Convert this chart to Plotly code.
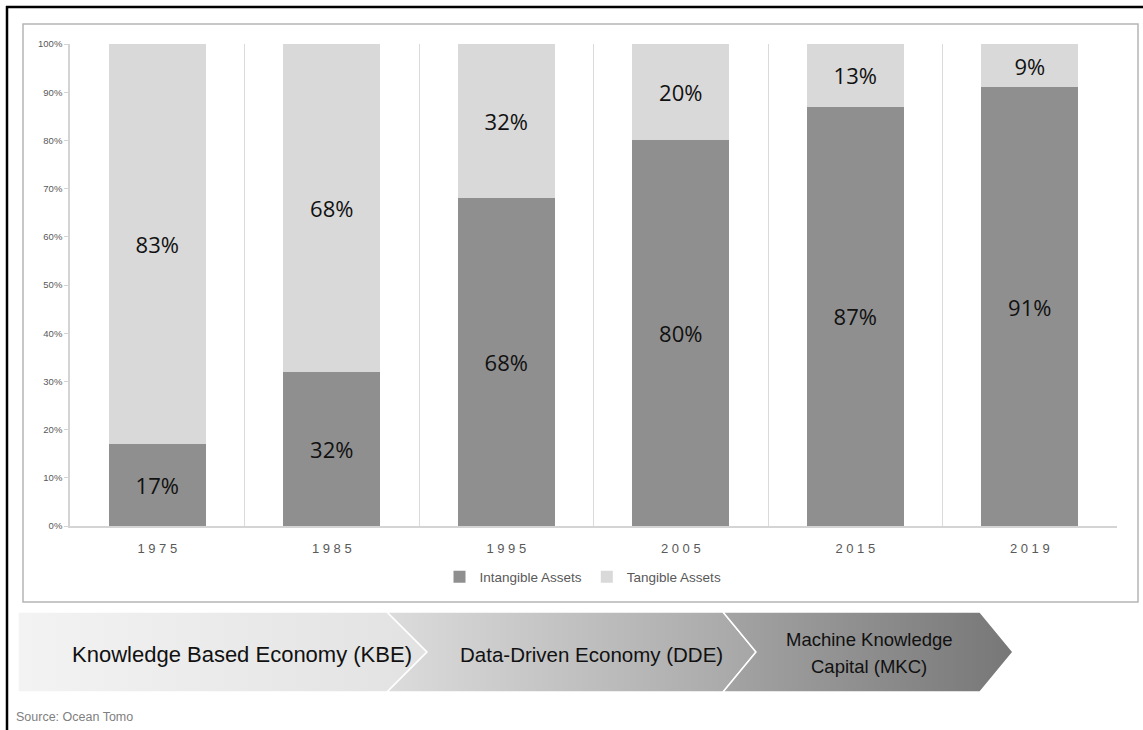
import plotly.graph_objects as go

# ---------------- data ----------------
years = ["1975", "1985", "1995", "2005", "2015", "2019"]
year_labels = ["1 9 7 5", "1 9 8 5", "1 9 9 5", "2 0 0 5", "2 0 1 5", "2 0 1 9"]
intangible = [17, 32, 68, 80, 87, 91]
tangible = [83, 68, 32, 20, 13, 9]
series_names = ["Intangible Assets", "Tangible Assets"]
y_ticks = [0, 10, 20, 30, 40, 50, 60, 70, 80, 90, 100]
y_tick_labels = ["0%", "10%", "20%", "30%", "40%", "50%", "60%", "70%", "80%", "90%", "100%"]
phase_1 = "Knowledge Based Economy (KBE)"
phase_2 = "Data-Driven Economy (DDE)"
phase_3_lines = ["Machine Knowledge", "Capital (MKC)"]
source_text = "Source: Ocean Tomo"

# ---------------- layout constants (pixels) ----------------
W, H = 1143, 730
PL, PR, PT, PB = 70, 1117, 44, 526

fig = go.Figure()

label_font = dict(family="Open Sans, Noto Sans, sans-serif", size=22, color="#111111")
fig.add_trace(go.Bar(
    x=years, y=intangible, name=series_names[0], marker_color="#8f8f8f",
    marker_line_width=0, text=[f"{v}%" for v in intangible],
    textposition="inside", insidetextanchor="middle", textfont=label_font,
    textangle=0, xaxis="x", yaxis="y"))
fig.add_trace(go.Bar(
    x=years, y=tangible, name=series_names[1], marker_color="#d9d9d9",
    marker_line_width=0, text=[f"{v}%" for v in tangible],
    textposition="inside", insidetextanchor="middle", textfont=label_font,
    textangle=0, xaxis="x", yaxis="y"))

# ---------------- chevron band (decorative) ----------------
top, bot, mid = 612, 692, 652
chev_shapes = [
    ([18, 387, 427, 387, 18, 18], [top, top, mid, bot, bot, top], "#f3f3f3", "#e2e2e2"),
    ([387, 723, 756, 723, 387, 427, 387], [top, top, mid, bot, bot, mid, top], "#dcdcdc", "#a6a6a6"),
    ([723, 980, 1013, 980, 723, 756, 723], [top, top, mid, bot, bot, mid, top], "#a4a4a4", "#777777"),
]
for xs, ys, c1, c2 in chev_shapes:
    fig.add_trace(go.Scatter(
        x=xs, y=ys, mode="lines", fill="toself",
        fillgradient=dict(type="horizontal", colorscale=[[0, c1], [1, c2]]),
        line=dict(color="white", width=1.5), showlegend=False, hoverinfo="skip",
        xaxis="x2", yaxis="y2"))

band_font = dict(family="Liberation Sans, Arial", color="#111111")
annotations = [
    dict(x=242, y=654, text=phase_1, showarrow=False, xref="x2", yref="y2",
         font=dict(band_font, size=22)),
    dict(x=591, y=654, text=phase_2, showarrow=False, xref="x2", yref="y2",
         font=dict(band_font, size=20.5)),
    dict(x=869, y=639, text=phase_3_lines[0], showarrow=False, xref="x2", yref="y2",
         font=dict(band_font, size=18.5)),
    dict(x=869, y=666, text=phase_3_lines[1], showarrow=False, xref="x2", yref="y2",
         font=dict(band_font, size=18.5)),
    dict(x=14, y=717, text=source_text, showarrow=False, xref="x2", yref="y2",
         xanchor="left", font=dict(family="Liberation Sans, Arial", size=12.5, color="#808080")),
]

shapes = [
    dict(type="rect", xref="x2", yref="y2", x0=23, y0=24, x1=1138, y1=602,
         line=dict(color="#b5b5b5", width=1.5), layer="below"),
    dict(type="line", xref="x2", yref="y2", x0=6, y0=7, x1=1143, y1=7,
         line=dict(color="black", width=2.5)),
    dict(type="line", xref="x2", yref="y2", x0=7, y0=6, x1=7, y1=730,
         line=dict(color="black", width=2.5)),
]

fig.update_layout(
    width=W, height=H, margin=dict(l=0, r=0, t=0, b=0, pad=0, autoexpand=False),
    paper_bgcolor="white", plot_bgcolor="rgba(0,0,0,0)",
    barmode="stack", bargap=0.444,
    font=dict(family="Liberation Sans, Arial, sans-serif", color="#595959"),
    showlegend=True,
    legend=dict(orientation="h", x=583 / W, xanchor="center", y=1 - 577 / H,
                yanchor="middle", font=dict(size=13.5, color="#595959"),
                traceorder="normal", bgcolor="rgba(0,0,0,0)"),
    xaxis=dict(domain=[PL / W, PR / W], type="category", tickson="boundaries",
               showgrid=True, gridcolor="#dadada", gridwidth=1,
               showline=True, linecolor="#d4d4d4", linewidth=1.5,
               ticks="", tickvals=years, ticktext=year_labels,
               tickfont=dict(size=13, color="#595959"), ticklabelstandoff=10,
               anchor="y", fixedrange=True, automargin=False),
    yaxis=dict(domain=[1 - PB / H, 1 - PT / H], range=[0, 100], tickvals=y_ticks,
               ticktext=y_tick_labels, showgrid=False, zeroline=False,
               showline=True, linecolor="#d4d4d4", linewidth=1.5,
               ticks="outside", ticklen=4, tickcolor="#d4d4d4",
               tickfont=dict(size=9.5, color="#595959"), anchor="x", fixedrange=True,
               automargin=False),
    xaxis2=dict(domain=[0, 1], range=[0, W], visible=False, anchor="y2", fixedrange=True),
    yaxis2=dict(domain=[0, 1], range=[H, 0], visible=False, anchor="x2", fixedrange=True),
    annotations=annotations, shapes=shapes,
)

fig.write_html("out.html")
